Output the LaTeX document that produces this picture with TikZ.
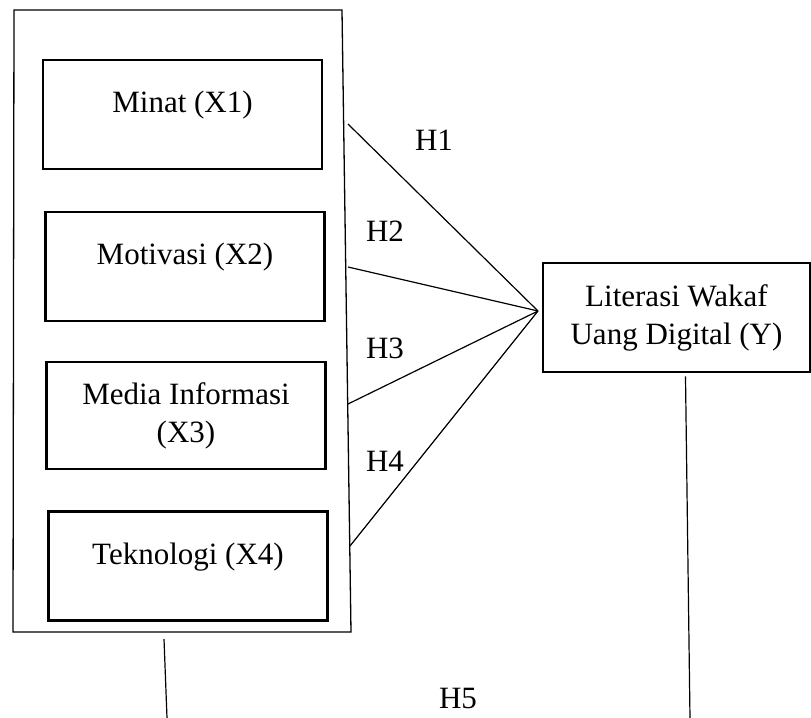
\documentclass[tikz,border=0pt]{standalone}
\usepackage{fontspec}
\setmainfont{Liberation Serif}
\usepackage{tikz}

\begin{document}
\begin{tikzpicture}[x=0.5pt, y=-0.5pt,
    varbox/.style={draw, line width=1.3pt, minimum width=139.5pt, minimum height=54.5pt, inner sep=0pt, align=center, font=\fontsize{15.5}{19}\selectfont},
    onerow/.style={text height=11pt, text depth=13pt},
    hlabel/.style={font=\fontsize{15.5}{19}\selectfont}]
    \useasboundingbox (0,0) rectangle (811,718);

    % Define coordinates
    \coordinate (TL) at (14,10);
    \coordinate (TR) at (342,10);
    \coordinate (BR) at (351,632);
    \coordinate (BL) at (13,632);
    \coordinate (hub) at (538,311);
    \coordinate (Hone) at (348,124);
    \coordinate (Htwo) at (348,267);
    \coordinate (Hthree) at (348,404);
    \coordinate (Hfour) at (350,546);
    \coordinate (Xdown) at (164,639);
    \coordinate (Xend) at (167,718);
    \coordinate (Yend) at (690,718);

    % Outer frame
    \draw[line width=0.65pt] (TL) -- (TR) -- (BR) -- (BL) -- cycle;

    % Variables
    \node[varbox, onerow] (minat) at (182.5,114.5) {Minat (X1)};
    \node[varbox, onerow] (motivasi) at (185,266.5) {Motivasi (X2)};
    \node[varbox, minimum height=53.5pt] (media) at (186,415.5) {Media Informasi\\(X3)};
    \node[varbox, onerow] (teknologi) at (188,566) {Teknologi (X4)};
    \node[varbox, minimum width=133.5pt] (literasi) at (676.5,317.5) {Literasi Wakaf\\Uang Digital (Y)};

    % Paths H1 to H4
    \draw[line width=0.6pt] (Hone) -- (hub);
    \draw[line width=0.6pt] (Htwo) -- (hub);
    \draw[line width=0.6pt] (Hthree) -- (hub);
    \draw[line width=0.6pt] (Hfour) -- (hub);
    \node[hlabel] (hA) at (434,140) {H1};
    \node[hlabel] (hB) at (385,231) {H2};
    \node[hlabel] (hC) at (385,348) {H3};
    \node[hlabel] (hD) at (385,461) {H4};

    % Path H5
    \draw[line width=0.6pt] (Xdown) -- (Xend);
    \draw[line width=0.6pt] ([xshift=4.5pt,yshift=-1.5pt]literasi.south) -- (Yend);
    \node[hlabel] (hE) at (458,698) {H5};
\end{tikzpicture}
\end{document}
